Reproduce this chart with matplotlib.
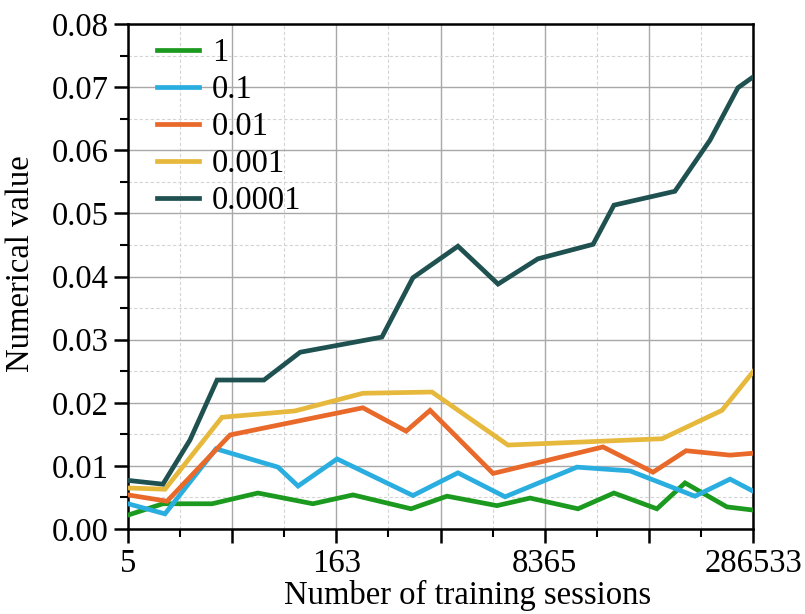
import matplotlib
matplotlib.use("Agg")
import matplotlib.pyplot as plt
from matplotlib.ticker import MultipleLocator, FormatStrFormatter

plt.rcParams['font.family'] = 'serif'
plt.rcParams['font.serif'] = ['Liberation Serif', 'Times New Roman', 'DejaVu Serif']

# Position along the training-session axis (0 .. 24) and the measured values
x_1 = [0, 1.34, 3.23, 4.99, 7.10, 8.64, 10.87, 12.25, 14.17, 15.44, 17.28, 18.66, 20.31, 21.39, 23.0, 24]
y_1 = [0.0022, 0.0040, 0.0040, 0.0057, 0.0040, 0.0054, 0.0032, 0.0052, 0.0037, 0.0049, 0.0032, 0.0057, 0.0032, 0.0073, 0.0035, 0.0030]

x_01 = [0, 1.42, 3.38, 5.76, 6.53, 8.03, 10.94, 12.67, 14.48, 17.24, 19.28, 21.77, 23.12, 24]
y_01 = [0.0040, 0.0024, 0.0127, 0.0098, 0.0068, 0.0111, 0.0053, 0.0089, 0.0051, 0.0098, 0.0092, 0.0052, 0.0079, 0.0060]

x_001 = [0, 1.50, 3.92, 9.02, 10.68, 11.60, 14.02, 18.24, 20.16, 21.43, 23.12, 24]
y_001 = [0.0054, 0.0044, 0.0149, 0.0192, 0.0155, 0.0188, 0.0088, 0.0130, 0.0090, 0.0124, 0.0117, 0.0120]

x_0001 = [0, 1.42, 3.61, 6.41, 9.02, 11.67, 14.59, 20.51, 22.81, 24]
y_0001 = [0.0065, 0.0063, 0.0177, 0.0187, 0.0215, 0.0217, 0.0133, 0.0143, 0.0188, 0.0249]

x_00001 = [0, 1.34, 2.38, 3.42, 5.22, 6.61, 9.75, 10.94, 12.67, 14.21, 15.74, 17.86, 18.66, 21.0, 22.35, 23.42, 24]
y_00001 = [0.0077, 0.0071, 0.0141, 0.0236, 0.0236, 0.0280, 0.0304, 0.0398, 0.0448, 0.0388, 0.0428, 0.0451, 0.0513, 0.0535, 0.0616, 0.0699, 0.0716]

labels = ['1', '0.1', '0.01', '0.001', '0.0001']
colors = ['#1b9a1f', '#2aaee0', '#e8692a', '#e6b83c', '#1f5151']

tick_pos = [0, 4, 8, 12, 16, 20, 24]
tick_labels = ['5', '', '163', '', '8365', '', '286533']

fig = plt.figure(figsize=(8.05, 6.14), dpi=100)
ax = fig.add_axes([128 / 805, 1 - 529 / 614, 625 / 805, 505 / 614])

series = [(x_1, y_1), (x_01, y_01), (x_001, y_001), (x_0001, y_0001), (x_00001, y_00001)]
for (xs, ys), lab, col in zip(series, labels, colors):
    ax.plot(xs, ys, color=col, lw=3.4, label=lab, solid_joinstyle='miter', zorder=3)

ax.set_xlim(0, 24)
ax.set_ylim(0, 0.08)

ax.set_xticks(tick_pos)
ax.set_xticklabels(tick_labels)
ax.xaxis.set_minor_locator(MultipleLocator(2))
ax.yaxis.set_major_locator(MultipleLocator(0.01))
ax.yaxis.set_minor_locator(MultipleLocator(0.005))
ax.yaxis.set_major_formatter(FormatStrFormatter('%.2f'))

ax.grid(which='major', color='#a8a8a8', lw=1.0, ls='-', zorder=0)
ax.grid(which='minor', color='#d4d4d4', lw=0.8, ls=(0, (3, 2)), zorder=0)
ax.set_axisbelow(True)

for sp in ax.spines.values():
    sp.set_linewidth(1.8)
    sp.set_color('black')

ax.tick_params(which='major', direction='out', length=10, width=1.8, labelsize=23.5, pad=4)
ax.tick_params(which='minor', direction='out', length=5.5, width=1.5)
ax.tick_params(axis='x', which='both', top=False)
ax.tick_params(axis='y', which='both', right=False)

ax.set_xlabel('Number of training sessions', fontsize=23.5)
ax.set_ylabel('Numerical value', fontsize=23.5)
ax.xaxis.set_label_coords(0.543, -0.1)
ax.yaxis.set_label_coords(-0.148, 0.525)

ax.legend(loc='upper left', frameon=False, fontsize=23.5, handlelength=1.3,
          handletextpad=0.4, labelspacing=0.2, borderaxespad=0.0,
          bbox_to_anchor=(0.025, 0.999))

fig.savefig('out.png', dpi=100)
